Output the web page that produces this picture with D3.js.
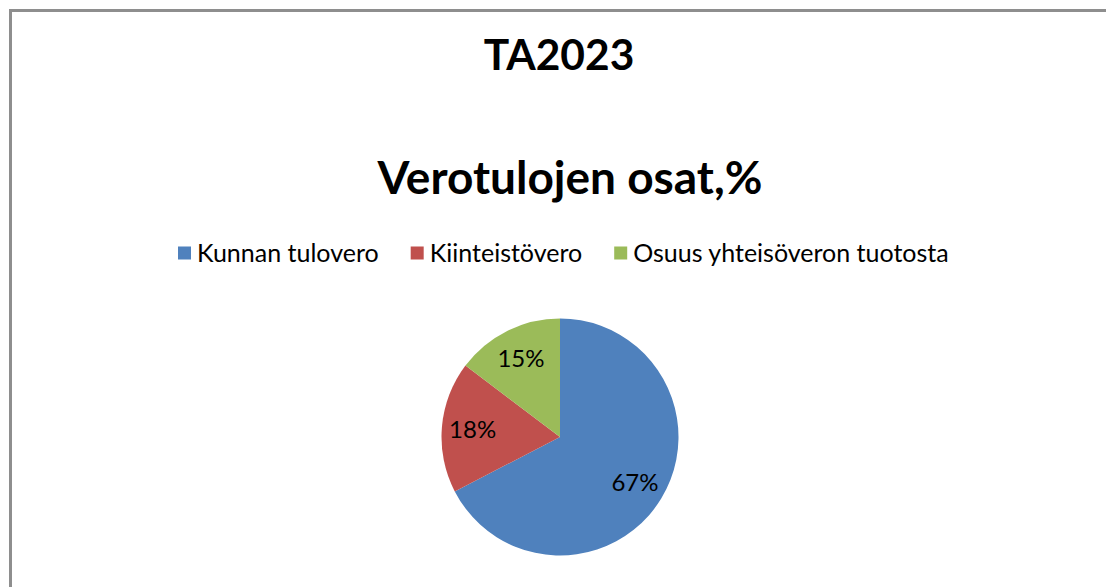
<!DOCTYPE html>
<html><head><meta charset="utf-8">
<script src="https://cdn.jsdelivr.net/npm/d3@7"></script>
<style>html,body{margin:0;padding:0;background:#fff;}svg{display:block;}</style>
</head><body>
<script>
const categories = ["Kunnan tulovero", "Kiinteistövero", "Osuus yhteisöveron tuotosta"];
const values = [67.4, 17.9, 14.7];
const colors = ["#4F81BD", "#C0504D", "#9BBB59"];
const titleLines = ["TA2023", "Verotulojen osat,%"];

const W = 1106, H = 587;
const svg = d3.select("body").append("svg").attr("width", W).attr("height", H);
svg.append("rect").attr("width", W).attr("height", H).attr("fill", "#fff");

// chart border
svg.append("path")
  .attr("d", `M10.5,${H + 5} L10.5,10.5 L${W + 5},10.5`)
  .attr("fill", "none").attr("stroke", "#8e8e8e").attr("stroke-width", 3);

const font = "Lato, 'Carlito', Calibri, sans-serif";

svg.append("text").attr("x", 559).attr("y", 70).attr("text-anchor", "middle")
  .attr("font-family", font).attr("font-weight", 700).attr("font-size", 42.5)
  .attr("fill", "#000").text(titleLines[0]);
svg.append("text").attr("x", 570).attr("y", 194).attr("text-anchor", "middle")
  .attr("font-family", font).attr("font-weight", 700).attr("font-size", 46)
  .attr("fill", "#000").text(titleLines[1]);

// legend
const lg = svg.append("g");
let lx = 178;
categories.forEach((c, i) => {
  const g = lg.append("g").attr("transform", `translate(${lx},253)`);
  g.append("rect").attr("x", 0).attr("y", -6.5).attr("width", 13).attr("height", 13).attr("fill", colors[i]);
  const t = g.append("text").attr("x", 19).attr("y", 0).attr("dy", "0.35em")
    .attr("font-family", font).attr("font-size", 25).attr("fill", "#000").text(c);
  lx += 19 + t.node().getComputedTextLength() + 32;
});

// pie
const cx = 560, cy = 437, r = 118.5;
const pie = d3.pie().sort(null).value(d => d)(values);
const arc = d3.arc().innerRadius(0).outerRadius(r);
const labelArc = d3.arc().innerRadius(r * 0.74).outerRadius(r * 0.74);
const total = d3.sum(values);
const pg = svg.append("g").attr("transform", `translate(${cx},${cy})`);
pg.selectAll("path.slice").data(pie).join("path").attr("class", "slice")
  .attr("d", arc).attr("fill", (d, i) => colors[i]);
pg.selectAll("text.lbl").data(pie).join("text").attr("class", "lbl")
  .attr("transform", d => `translate(${labelArc.centroid(d)})`)
  .attr("text-anchor", "middle").attr("dy", "0.35em")
  .attr("font-family", font).attr("font-size", 24).attr("fill", "#000")
  .text(d => Math.round(d.value / total * 100) + "%");
</script>
</body></html>
